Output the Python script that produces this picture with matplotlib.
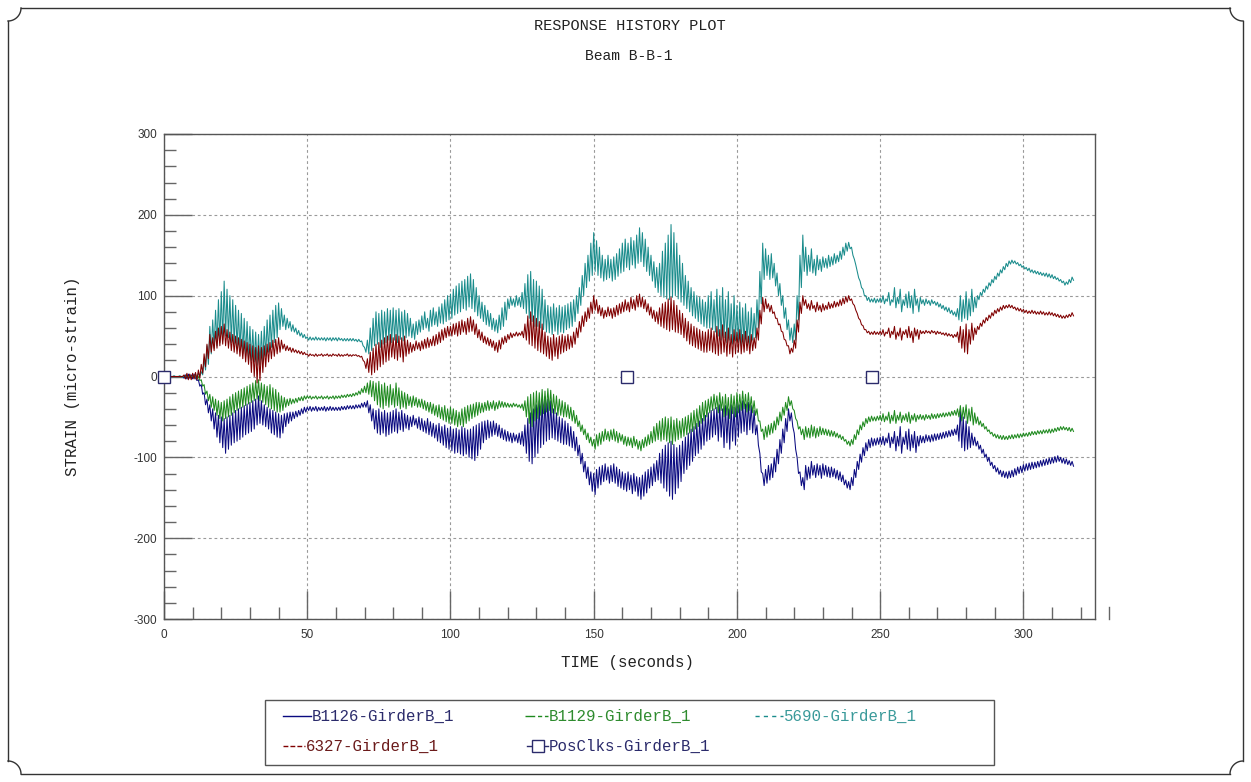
import matplotlib
matplotlib.use("Agg")
import matplotlib.pyplot as plt
import numpy as np
from matplotlib.lines import Line2D
from matplotlib.ticker import MultipleLocator

plt.rcParams["axes.unicode_minus"] = False

SAMPLE_DT = 0.5  # seconds between stored samples

# Strain gauge readings (micro-strain), one row per 10 s of record.
b1126 = [
    0, 0, 0, 0, 0, 0, 0, 0, 0, 0, 0, 0, 0, 0, -2, 2, -3, 3, -2, 2,
    -3, 3, -2, -5, -4, -12, -10, -22, -20, -35, -28, -45, -35, -55, -40, -65, -45, -75, -48, -82,
    -50, -88, -52, -95, -50, -90, -48, -85, -45, -82, -42, -80, -40, -78, -38, -75, -36, -72, -34, -70,
    -32, -68, -30, -65, -28, -60, -24, -58, -30, -60, -35, -62, -38, -65, -40, -70, -42, -72, -44, -75,
    -46, -76, -48, -70, -46, -62, -45, -58, -44, -55, -44, -52, -43, -50, -42, -48, -40, -46, -38, -44,
    -38, -42, -37, -43, -38, -42, -37, -43, -38, -42, -38, -42, -37, -43, -38, -42, -37, -42, -38, -42,
    -38, -42, -38, -42, -37, -41, -37, -41, -36, -40, -36, -40, -36, -40, -35, -39, -35, -39, -33, -38,
    -32, -38, -30, -45, -35, -55, -40, -65, -42, -70, -40, -72, -44, -70, -42, -74, -45, -72, -44, -70,
    -42, -68, -40, -70, -44, -66, -42, -68, -46, -64, -48, -66, -50, -62, -48, -60, -52, -64, -50, -66,
    -52, -68, -55, -70, -52, -72, -56, -74, -58, -76, -60, -80, -58, -82, -62, -85, -60, -88, -64, -90,
    -62, -92, -65, -95, -64, -94, -66, -96, -62, -98, -64, -96, -66, -100, -65, -102, -62, -104, -60, -98,
    -58, -90, -56, -82, -55, -78, -54, -76, -56, -74, -55, -72, -58, -74, -60, -76, -64, -78, -66, -80,
    -68, -80, -70, -82, -70, -80, -72, -82, -70, -84, -68, -86, -60, -95, -52, -105, -45, -108, -40, -100,
    -35, -95, -30, -88, -28, -84, -25, -80, -28, -78, -30, -76, -40, -78, -45, -80, -50, -82, -52, -84,
    -55, -84, -58, -86, -62, -88, -68, -92, -75, -98, -85, -108, -95, -118, -105, -126, -112, -134, -118, -142,
    -120, -146, -115, -138, -112, -134, -110, -130, -108, -128, -112, -132, -110, -130, -108, -132, -112, -136, -115, -138,
    -118, -140, -120, -142, -118, -140, -122, -145, -120, -142, -124, -148, -125, -152, -122, -148, -118, -144, -115, -138,
    -112, -135, -108, -130, -104, -128, -95, -132, -90, -138, -85, -142, -82, -148, -80, -152, -84, -145, -88, -138,
    -85, -130, -80, -120, -75, -115, -70, -110, -65, -105, -62, -98, -58, -95, -55, -90, -52, -85, -48, -80,
    -45, -78, -42, -75, -40, -72, -38, -80, -35, -75, -40, -88, -36, -82, -40, -90, -35, -80, -38, -85,
    -32, -75, -35, -70, -30, -68, -34, -72, -32, -66, -36, -70, -42, -72, -60, -85, -95, -118, -120, -135,
    -115, -132, -110, -128, -108, -125, -100, -118, -90, -108, -78, -95, -65, -82, -52, -68, -40, -55, -45, -62,
    -70, -90, -100, -120, -118, -135, -125, -140, -110, -128, -112, -126, -105, -122, -110, -125, -108, -122, -110, -126,
    -108, -122, -110, -124, -112, -125, -112, -124, -114, -126, -116, -128, -118, -130, -122, -134, -128, -138, -130, -140,
    -125, -135, -115, -125, -105, -115, -96, -106, -88, -98, -82, -92, -78, -88, -76, -86, -77, -85, -76, -84,
    -75, -84, -74, -85, -76, -82, -70, -88, -75, -83, -68, -92, -74, -86, -62, -95, -75, -84, -68, -90,
    -65, -92, -72, -88, -68, -94, -74, -86, -73, -82, -74, -82, -72, -80, -73, -81, -72, -80, -71, -79,
    -71, -78, -70, -77, -69, -76, -68, -75, -67, -74, -66, -73, -65, -72, -60, -80, -40, -88, -50, -92,
    -55, -90, -62, -88, -70, -85, -75, -86, -80, -90, -85, -95, -90, -100, -96, -105, -100, -110, -106, -114,
    -110, -118, -113, -121, -116, -124, -117, -125, -118, -126, -117, -125, -116, -124, -114, -122, -112, -120, -111, -119,
    -109, -117, -108, -116, -107, -115, -106, -114, -106, -113, -105, -112, -104, -111, -103, -110, -102, -109, -101, -108,
    -100, -107, -99, -106, -98, -105, -100, -107, -101, -108, -102, -109, -104, -110, -105, -111,
]

b1129 = [
    0, 0, 0, 0, 0, 0, 0, 0, 0, 0, 0, 0, 0, 0, 1, -1, 1, -2, 2, -1,
    1, -2, 2, -3, 0, -5, -4, -12, -10, -22, -18, -30, -22, -38, -25, -42, -28, -48, -30, -52,
    -32, -55, -30, -52, -28, -50, -25, -48, -22, -45, -20, -42, -18, -40, -16, -38, -14, -36, -12, -34,
    -10, -32, -8, -30, -5, -28, -4, -30, -8, -32, -10, -35, -12, -38, -10, -40, -14, -42, -16, -44,
    -20, -44, -24, -42, -26, -38, -28, -36, -27, -34, -28, -33, -27, -32, -26, -30, -25, -30, -24, -28,
    -24, -27, -24, -28, -25, -27, -24, -28, -25, -27, -24, -28, -25, -27, -24, -28, -25, -27, -24, -28,
    -24, -27, -24, -27, -23, -26, -23, -26, -22, -25, -22, -25, -21, -24, -20, -23, -18, -22, -15, -20,
    -12, -20, -8, -22, -5, -25, -6, -30, -8, -35, -6, -38, -10, -40, -8, -36, -12, -38, -10, -35,
    -15, -38, -8, -36, -14, -40, -18, -38, -20, -40, -22, -36, -25, -38, -24, -36, -26, -38, -28, -38,
    -28, -40, -30, -42, -32, -44, -32, -46, -34, -48, -36, -50, -35, -52, -38, -54, -36, -56, -40, -58,
    -38, -58, -40, -60, -42, -62, -44, -60, -40, -62, -38, -58, -36, -55, -35, -52, -34, -50, -32, -48,
    -32, -45, -33, -44, -32, -42, -30, -42, -32, -40, -30, -42, -32, -40, -30, -38, -31, -38, -32, -38,
    -33, -38, -34, -38, -33, -37, -34, -38, -35, -39, -34, -42, -30, -50, -25, -58, -22, -62, -20, -55,
    -18, -52, -20, -48, -16, -46, -18, -44, -15, -42, -17, -45, -22, -46, -24, -48, -28, -48, -30, -50,
    -32, -50, -35, -52, -38, -55, -42, -58, -48, -62, -55, -68, -60, -72, -65, -78, -70, -82, -75, -86,
    -78, -90, -72, -86, -70, -84, -68, -80, -65, -78, -68, -80, -66, -78, -65, -80, -68, -82, -70, -80,
    -72, -84, -74, -86, -75, -85, -76, -88, -74, -86, -78, -90, -80, -92, -78, -88, -75, -86, -72, -84,
    -68, -82, -62, -80, -58, -78, -55, -80, -52, -78, -50, -80, -52, -82, -50, -84, -54, -80, -52, -78,
    -55, -76, -52, -74, -50, -72, -48, -70, -45, -68, -42, -65, -40, -62, -36, -58, -32, -55, -30, -50,
    -28, -45, -25, -42, -22, -40, -24, -45, -20, -42, -25, -50, -22, -48, -26, -52, -22, -46, -24, -50,
    -20, -45, -22, -42, -18, -40, -22, -44, -20, -42, -25, -45, -30, -48, -40, -55, -55, -68, -65, -78,
    -62, -75, -60, -72, -58, -70, -55, -66, -50, -60, -44, -55, -38, -48, -32, -42, -25, -36, -30, -40,
    -42, -52, -55, -65, -62, -72, -65, -78, -62, -75, -64, -76, -60, -74, -62, -76, -64, -74, -62, -72,
    -64, -72, -65, -73, -66, -74, -67, -74, -68, -75, -70, -76, -72, -78, -74, -80, -78, -84, -80, -86,
    -78, -84, -72, -78, -66, -72, -60, -66, -56, -62, -52, -58, -50, -56, -49, -55, -50, -55, -49, -54,
    -48, -55, -46, -56, -49, -54, -44, -58, -48, -55, -42, -58, -48, -54, -44, -57, -48, -54, -46, -56,
    -44, -58, -48, -54, -46, -56, -48, -53, -47, -53, -48, -54, -47, -52, -48, -53, -46, -52, -47, -52,
    -46, -51, -46, -50, -45, -50, -45, -49, -44, -49, -43, -48, -42, -48, -40, -50, -36, -55, -38, -52,
    -35, -58, -40, -55, -38, -60, -45, -58, -50, -60, -55, -62, -58, -65, -62, -68, -66, -71, -69, -74,
    -71, -76, -72, -77, -73, -78, -73, -78, -74, -78, -73, -77, -72, -77, -72, -76, -71, -76, -71, -75,
    -70, -74, -70, -74, -69, -73, -68, -72, -68, -72, -67, -71, -67, -71, -66, -70, -66, -70, -65, -70,
    -65, -69, -64, -68, -63, -67, -62, -66, -62, -66, -63, -67, -63, -68, -64, -68,
]

g5690 = [
    0, 0, 0, 0, 1, 0, 0, 1, 0, 0, 0, 1, 0, -1, 1, 0, 2, -1, 1, 0,
    1, -1, 3, -2, 4, 0, 6, 2, 22, 8, 38, 15, 62, 28, 70, 35, 82, 38, 95, 42,
    105, 45, 118, 50, 108, 48, 100, 42, 95, 40, 88, 35, 82, 32, 78, 28, 72, 25, 68, 22,
    62, 20, 58, 18, 55, 14, 52, 15, 56, 18, 62, 25, 70, 30, 76, 36, 82, 42, 88, 48,
    91, 58, 84, 62, 76, 58, 72, 60, 68, 56, 64, 55, 60, 52, 57, 50, 54, 48, 52, 47,
    49, 45, 49, 45, 48, 45, 49, 45, 48, 45, 48, 45, 48, 44, 48, 45, 48, 44, 48, 45,
    48, 44, 48, 45, 47, 44, 47, 44, 47, 44, 47, 44, 47, 44, 46, 43, 46, 43, 44, 38,
    36, 30, 45, 28, 60, 32, 72, 38, 80, 40, 78, 36, 82, 40, 80, 42, 84, 45, 82, 42,
    85, 45, 82, 42, 84, 46, 80, 44, 82, 48, 78, 50, 72, 48, 65, 46, 68, 52, 70, 55,
    75, 58, 80, 60, 72, 56, 82, 62, 85, 64, 80, 62, 86, 66, 90, 65, 95, 68, 100, 70,
    102, 72, 108, 76, 112, 78, 115, 80, 118, 84, 120, 82, 124, 86, 127, 84, 120, 80, 110, 75,
    100, 72, 92, 68, 88, 64, 82, 62, 78, 58, 72, 56, 70, 54, 76, 58, 85, 62, 92, 70,
    96, 84, 98, 88, 96, 86, 100, 88, 98, 86, 104, 84, 115, 78, 126, 72, 130, 68, 120, 62,
    118, 62, 112, 60, 108, 58, 95, 55, 88, 54, 86, 52, 90, 56, 85, 52, 88, 55, 86, 54,
    88, 58, 90, 60, 92, 62, 95, 68, 100, 78, 110, 88, 125, 100, 140, 110, 150, 118, 165, 125,
    178, 130, 168, 125, 160, 122, 150, 118, 145, 120, 150, 122, 145, 118, 148, 120, 152, 124, 158, 128,
    165, 130, 170, 135, 165, 132, 172, 138, 168, 134, 175, 140, 184, 142, 178, 136, 170, 130, 160, 125,
    150, 118, 142, 110, 135, 104, 140, 100, 155, 98, 165, 96, 175, 95, 188, 98, 178, 100, 165, 96,
    150, 92, 140, 88, 125, 84, 118, 80, 110, 75, 105, 72, 100, 68, 98, 65, 95, 62, 92, 60,
    100, 60, 105, 58, 95, 55, 108, 50, 100, 45, 110, 48, 95, 42, 105, 45, 90, 40, 100, 44,
    88, 42, 92, 38, 85, 40, 90, 42, 80, 38, 85, 45, 78, 48, 95, 60, 130, 90, 165, 120,
    158, 125, 150, 120, 152, 122, 140, 112, 128, 100, 115, 88, 100, 72, 85, 58, 70, 45, 60, 42,
    65, 45, 100, 70, 150, 110, 175, 130, 160, 125, 150, 130, 158, 128, 145, 125, 150, 132, 145, 130,
    148, 135, 146, 134, 150, 136, 148, 138, 152, 140, 150, 142, 155, 145, 160, 150, 165, 155, 166, 158,
    160, 150, 145, 138, 130, 122, 118, 110, 108, 100, 100, 94, 98, 92, 96, 92, 97, 91, 96, 92,
    97, 92, 100, 90, 96, 93, 104, 88, 95, 92, 110, 85, 98, 90, 108, 80, 95, 88, 102, 85,
    105, 85, 100, 78, 108, 88, 96, 80, 98, 90, 95, 88, 96, 90, 94, 88, 95, 90, 93, 88,
    92, 86, 90, 84, 88, 82, 86, 80, 85, 78, 82, 76, 80, 74, 84, 70, 100, 68, 95, 72,
    105, 70, 96, 75, 108, 80, 98, 85, 100, 95, 104, 100, 108, 104, 112, 108, 116, 112, 120, 116,
    124, 120, 128, 124, 132, 128, 136, 132, 140, 136, 143, 139, 144, 140, 143, 139, 141, 137, 139, 135,
    137, 133, 135, 131, 134, 129, 132, 128, 131, 127, 130, 126, 129, 125, 128, 124, 128, 123, 127, 122,
    126, 121, 124, 120, 122, 118, 120, 116, 118, 113, 117, 114, 120, 116, 123, 119,
]

g6327 = [
    0, 0, 0, 0, 0, 0, 0, 0, 0, 0, 0, 0, 0, 0, 2, -3, 4, -4, 3, -4,
    4, -3, 5, -4, 8, -2, 15, 4, 28, 12, 40, 22, 52, 30, 48, 32, 56, 35, 60, 38,
    62, 40, 65, 38, 58, 35, 55, 32, 52, 30, 50, 28, 48, 25, 46, 22, 44, 18, 42, 15,
    40, 5, 38, 0, 36, -8, 38, -5, 36, 5, 38, 12, 40, 18, 42, 22, 45, 25, 46, 28,
    48, 30, 45, 34, 40, 32, 38, 32, 36, 30, 35, 30, 33, 29, 32, 28, 31, 27, 30, 27,
    28, 25, 28, 26, 27, 25, 28, 25, 27, 26, 28, 25, 27, 26, 28, 25, 27, 25, 28, 26,
    27, 25, 28, 25, 27, 25, 27, 26, 28, 25, 27, 25, 27, 26, 27, 25, 26, 24, 25, 20,
    18, 10, 22, 5, 30, 2, 35, 5, 40, 8, 42, 12, 45, 15, 48, 18, 50, 20, 52, 24,
    48, 22, 52, 20, 50, 24, 48, 18, 50, 25, 45, 28, 42, 30, 40, 32, 44, 34, 42, 32,
    44, 34, 46, 35, 48, 36, 46, 38, 50, 38, 52, 40, 55, 42, 58, 45, 60, 48, 62, 50,
    62, 50, 65, 52, 66, 50, 68, 52, 70, 55, 68, 52, 72, 55, 74, 56, 70, 52, 65, 48,
    58, 45, 55, 42, 50, 40, 48, 38, 46, 36, 44, 32, 42, 30, 45, 34, 48, 40, 50, 42,
    52, 46, 54, 48, 53, 50, 55, 50, 54, 51, 56, 48, 65, 45, 75, 40, 80, 38, 75, 35,
    72, 32, 68, 30, 65, 28, 55, 25, 50, 22, 48, 20, 52, 25, 48, 22, 50, 28, 52, 30,
    50, 32, 52, 34, 50, 36, 55, 40, 60, 48, 68, 55, 75, 62, 80, 68, 85, 72, 92, 78,
    100, 82, 95, 78, 88, 75, 85, 72, 82, 74, 86, 75, 84, 72, 85, 74, 88, 76, 90, 78,
    92, 80, 95, 82, 92, 80, 98, 84, 95, 82, 100, 86, 102, 86, 98, 84, 95, 80, 90, 76,
    86, 72, 82, 68, 80, 65, 85, 62, 90, 60, 92, 58, 96, 56, 98, 58, 94, 55, 88, 54,
    82, 52, 78, 48, 72, 44, 68, 40, 65, 38, 62, 36, 60, 34, 58, 32, 56, 30, 55, 30,
    58, 32, 60, 30, 56, 28, 62, 26, 58, 28, 64, 30, 55, 25, 60, 28, 52, 24, 58, 28,
    55, 30, 58, 28, 52, 30, 56, 32, 50, 28, 52, 32, 48, 35, 60, 45, 82, 65, 98, 80,
    96, 84, 90, 80, 88, 78, 80, 72, 72, 64, 65, 56, 55, 46, 45, 38, 38, 28, 35, 30,
    45, 35, 70, 55, 92, 78, 100, 88, 95, 84, 90, 82, 94, 84, 88, 80, 92, 82, 88, 80,
    90, 82, 88, 83, 92, 84, 90, 85, 93, 86, 92, 87, 95, 88, 97, 90, 99, 92, 100, 94,
    96, 90, 88, 82, 78, 72, 70, 64, 63, 58, 58, 54, 56, 52, 55, 52, 56, 52, 55, 52,
    56, 52, 58, 50, 55, 53, 60, 48, 56, 52, 62, 46, 55, 50, 60, 45, 56, 52, 58, 48,
    62, 48, 56, 42, 60, 50, 58, 46, 57, 53, 56, 53, 57, 54, 56, 53, 57, 54, 56, 52,
    56, 53, 55, 52, 54, 51, 54, 50, 53, 50, 52, 48, 52, 49, 55, 42, 62, 35, 58, 30,
    65, 28, 58, 40, 66, 45, 60, 52, 62, 58, 66, 62, 70, 66, 73, 69, 76, 72, 79, 75,
    82, 78, 84, 80, 86, 82, 88, 84, 88, 85, 89, 85, 88, 84, 86, 82, 85, 81, 84, 80,
    83, 79, 82, 78, 81, 78, 82, 78, 81, 77, 80, 77, 81, 77, 80, 76, 79, 76, 80, 76,
    79, 75, 78, 74, 77, 73, 76, 72, 75, 72, 76, 73, 77, 74, 79, 75,
]

# position-clicks channel: markers only
posclk_t = [0.0, 161.5, 247.0]
posclk_v = [0, 0, 0]

NAVY = "#0a0a80"
GREEN = "#1f8a1f"
TEAL = "#1a8c8c"
MAROON = "#800000"

channels = [
    ("B1126-GirderB_1", b1126, NAVY),
    ("B1129-GirderB_1", b1129, GREEN),
    ("5690-GirderB_1", g5690, TEAL),
    ("6327-GirderB_1", g6327, MAROON),
]

MONO = ["Liberation Mono", "DejaVu Sans Mono"]
TICKFONT = ["Liberation Sans", "DejaVu Sans"]
W, H = 1251, 782

fig = plt.figure(figsize=(W / 100, H / 100), dpi=100)
ax = fig.add_axes([164 / W, 1 - 619 / H, 931 / W, 485 / H])

for name, vals, col in channels:
    t = np.arange(len(vals)) * SAMPLE_DT
    ax.plot(t, vals, color=col, lw=0.75, zorder=2)
ax.plot(posclk_t, posclk_v, ls="none", marker="s", ms=8, mfc="white",
        mec="#2b2b6b", mew=1.0, zorder=4, clip_on=False)

ax.set_xlim(0, 325)
ax.set_ylim(-300, 300)
ax.xaxis.set_major_locator(MultipleLocator(50))
ax.xaxis.set_minor_locator(MultipleLocator(10))
ax.yaxis.set_major_locator(MultipleLocator(100))
ax.yaxis.set_minor_locator(MultipleLocator(20))
ax.tick_params(which="major", direction="in", length=20, width=1, color="#666",
               labelsize=8.5, pad=5, labelcolor="#333", labelfontfamily=TICKFONT)
ax.tick_params(axis="x", which="major", pad=7)
ax.tick_params(which="minor", direction="in", length=8.5, width=1, color="#666")
ax.set_axisbelow(True)
ax.grid(True, which="major", color="#9a9a9a", lw=0.8, ls=(0, (2.5, 2.5)))
for sp in ax.spines.values():
    sp.set_color("#555")
    sp.set_linewidth(1)
# lone tick mark left beyond the end of the time axis
ax.plot([330, 330], [-300, -285], color="#666", lw=1, clip_on=False)

fig.text(630 / W, 1 - 26 / H, "RESPONSE HISTORY PLOT", ha="center", va="center",
         family=MONO, fontsize=11, color="#222")
fig.text(629 / W, 1 - 56 / H, "Beam B-B-1", ha="center", va="center",
         family=MONO, fontsize=10.5, color="#222")
fig.text(628 / W, 1 - 663 / H, "TIME (seconds)", ha="center", va="center",
         family=MONO, fontsize=11.3, color="#222")
fig.text(72 / W, 1 - 376 / H, "STRAIN (micro-strain)", ha="center", va="center",
         rotation=90, family=MONO, fontsize=11.3, color="#222")

# overlay in pixel units for the page frame and the legend box
ov = fig.add_axes([0, 0, 1, 1])
ov.set_xlim(0, W)
ov.set_ylim(H, 0)
ov.axis("off")

m, r = 8, 13
a = np.linspace(0, np.pi / 2, 20)
frame = dict(color="#333", lw=1)
ov.plot([m + r, W - m - r], [m, m], **frame)
ov.plot([m + r, W - m - r], [H - m, H - m], **frame)
ov.plot([m, m], [m + r, H - m - r], **frame)
ov.plot([W - m, W - m], [m + r, H - m - r], **frame)
for cx, cy, sx, sy in [(m, m, 1, 1), (W - m, m, -1, 1), (m, H - m, 1, -1), (W - m, H - m, -1, -1)]:
    ov.plot(cx + sx * r * np.cos(a), cy + sy * r * np.sin(a), **frame)

ov.add_patch(plt.Rectangle((265, 700), 729, 65, fill=False, ec="#555", lw=1))

legend_rows = [
    (283, 311, 716, "B1126-GirderB_1", NAVY, "#2b2b6b", "-", None),
    (525, 548, 716, "B1129-GirderB_1", GREEN, "#2e8b2e", (0, (7, 2, 3, 2)), None),
    (755, 783, 716, "5690-GirderB_1", TEAL, "#3a9a9a", (0, (3, 3)), None),
    (283, 305, 746, "6327-GirderB_1", MAROON, "#6b1a1a", (0, (3.5, 1.5)), None),
    (527, 548, 746, "PosClks-GirderB_1", "#2b2b6b", "#2b2b6b", "-", "s"),
]
for x0, x1, y, label, lcol, tcol, ls, mk in legend_rows:
    ov.add_line(Line2D([x0, x1], [y, y], color=lcol, lw=1, ls=ls))
    if mk:
        ov.plot([(x0 + x1) / 2], [y], marker=mk, ms=8, mfc="white", mec=lcol, mew=1)
    ov.text(x1 + 1, y, label, ha="left", va="center", family=MONO, fontsize=11.3, color=tcol)

fig.savefig("out.png", dpi=100)
